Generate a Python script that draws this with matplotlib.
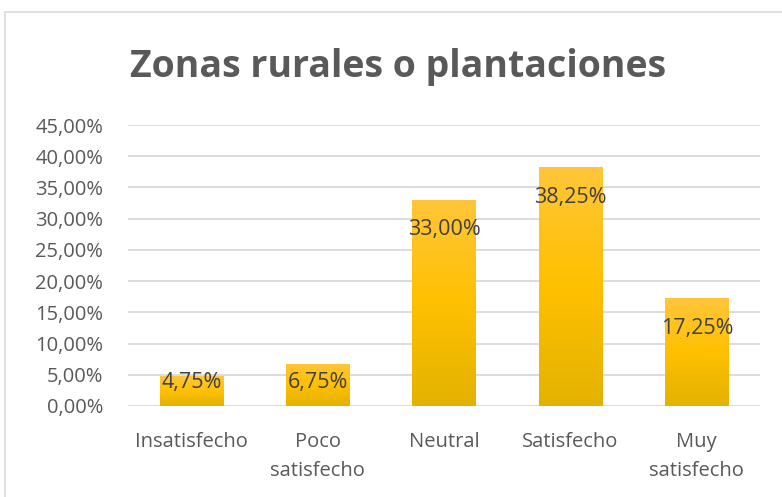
import numpy as np
import matplotlib.pyplot as plt
from matplotlib.patches import Rectangle
from matplotlib.colors import LinearSegmentedColormap

# Data
categorias = ["Insatisfecho", "Poco\nsatisfecho", "Neutral", "Satisfecho", "Muy\nsatisfecho"]
valores = [4.75, 6.75, 33.00, 38.25, 17.25]
etiquetas = ["4,75%", "6,75%", "33,00%", "38,25%", "17,25%"]
yticks = [0, 5, 10, 15, 20, 25, 30, 35, 40, 45]

W, H = 782, 497
fig = plt.figure(figsize=(W / 100, H / 100), dpi=100)
ax = fig.add_axes([128 / W, 1 - 406 / H, (760 - 128) / W, (406 - 125) / H])

# outer chart border
fig.patches.append(Rectangle((5 / W, -0.1), 1.2, 1 - 12 / H + 0.1, transform=fig.transFigure,
                             fill=False, edgecolor="#D9D9D9", linewidth=1.2))

x = np.arange(len(valores))
bars = ax.bar(x, valores, width=0.5, color="#FFC000", zorder=2)

# gold gradient inside each bar
grad = np.linspace(0, 1, 256).reshape(-1, 1)
cmap = LinearSegmentedColormap.from_list("oro", ["#E3B200", "#FFC000", "#FFC63A"])
for b in bars:
    im = ax.imshow(grad, cmap=cmap, aspect="auto", origin="lower",
                   extent=[b.get_x(), b.get_x() + b.get_width(), 0, b.get_height()], zorder=3)
    im.set_clip_path(b)

for xi, v, t in zip(x, valores, etiquetas):
    ax.text(xi, max(v - 4.8, 3.7), t, ha="center", va="center", fontsize=15.5,
            color="#404040", family="Open Sans", zorder=4)

ax.set_xlim(-0.5, len(valores) - 0.5)
ax.set_ylim(0, 45)
ax.set_yticks(yticks)
ax.set_yticklabels([f"{v:.2f}%".replace(".", ",") for v in yticks])
ax.set_xticks(x)
ax.set_xticklabels(categorias, linespacing=1.6, va="top")
ax.tick_params(length=0, labelsize=14.5, labelcolor="#595959")
ax.tick_params(axis="y", pad=18)
ax.tick_params(axis="x", pad=19)
for lab in ax.get_xticklabels() + ax.get_yticklabels():
    lab.set_family("Open Sans")
ax.grid(axis="y", color="#D9D9D9", linewidth=1.3, zorder=0)
for s in ax.spines.values():
    s.set_visible(False)

fig.text(398 / W, 1 - 67 / H, "Zonas rurales o plantaciones", ha="center", va="center",
         fontsize=27, fontweight="bold", color="#595959", family="Open Sans")

fig.savefig("out.png", dpi=100)
